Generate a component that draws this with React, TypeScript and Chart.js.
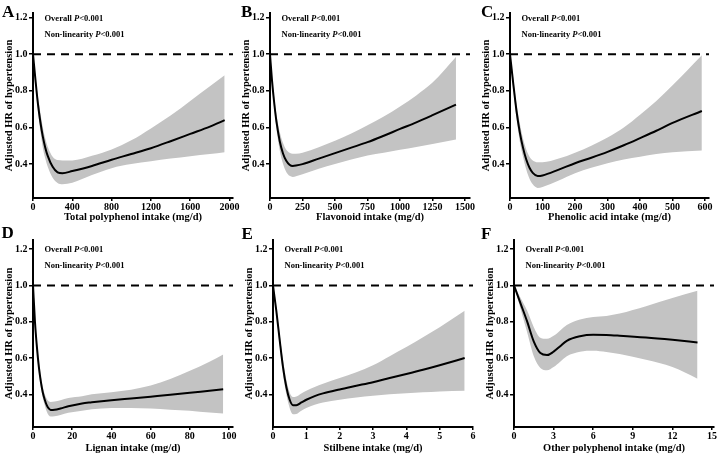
import React, { useEffect, useRef } from "react";
import { Chart, registerables } from "chart.js";

Chart.register(...registerables);

const FONT = "'Liberation Serif', 'Times New Roman', Times, serif";
const BAND = "#c3c3c3";

// ---------- Data ----------
const yTicks = [0.4, 0.6, 0.8, 1.0, 1.2];
const yTitle = "Adjusted HR of hypertension";

// A: Total polyphenol
const aX = [0, 25, 50, 75, 100, 125, 150, 200, 250, 300, 400, 600, 800, 1000, 1200, 1400, 1600, 1800, 1950];
const aFit = [1.0, 0.86, 0.73, 0.63, 0.55, 0.49, 0.445, 0.385, 0.355, 0.35, 0.362, 0.39, 0.424, 0.455, 0.487, 0.525, 0.565, 0.605, 0.64];
const aUp = [1.0, 0.88, 0.77, 0.68, 0.6, 0.54, 0.495, 0.44, 0.422, 0.42, 0.42, 0.445, 0.48, 0.53, 0.595, 0.665, 0.745, 0.825, 0.885];
const aLo = [1.0, 0.84, 0.69, 0.58, 0.49, 0.43, 0.385, 0.325, 0.297, 0.29, 0.298, 0.34, 0.378, 0.4, 0.415, 0.43, 0.443, 0.455, 0.465];
const aTicks = [0, 400, 800, 1200, 1600, 2000];

// B: Flavonoid
const bX = [0, 15, 30, 50, 75, 100, 125, 150, 175, 200, 250, 375, 500, 625, 750, 875, 1000, 1125, 1250, 1430];
const bFit = [1.0, 0.86, 0.75, 0.63, 0.525, 0.458, 0.418, 0.397, 0.39, 0.392, 0.4, 0.43, 0.46, 0.49, 0.52, 0.555, 0.592, 0.628, 0.667, 0.725];
const bUp = [1.0, 0.88, 0.78, 0.67, 0.575, 0.515, 0.478, 0.462, 0.457, 0.456, 0.462, 0.492, 0.527, 0.567, 0.612, 0.66, 0.715, 0.775, 0.845, 0.985];
const bLo = [1.0, 0.84, 0.72, 0.59, 0.475, 0.402, 0.357, 0.336, 0.33, 0.334, 0.345, 0.375, 0.4, 0.425, 0.447, 0.462, 0.478, 0.493, 0.51, 0.535];
const bTicks = [0, 250, 500, 750, 1000, 1250, 1500];

// C: Phenolic acid
const cX = [0, 5, 10, 20, 30, 40, 50, 60, 70, 85, 100, 150, 200, 250, 300, 350, 400, 450, 500, 590];
const cFit = [1.0, 0.92, 0.84, 0.69, 0.575, 0.49, 0.425, 0.38, 0.352, 0.335, 0.338, 0.37, 0.405, 0.435, 0.467, 0.503, 0.542, 0.582, 0.625, 0.69];
const cUp = [1.0, 0.94, 0.87, 0.73, 0.625, 0.54, 0.48, 0.44, 0.42, 0.41, 0.41, 0.43, 0.462, 0.5, 0.545, 0.6, 0.67, 0.745, 0.83, 0.995];
const cLo = [1.0, 0.9, 0.81, 0.65, 0.525, 0.44, 0.37, 0.32, 0.29, 0.27, 0.275, 0.31, 0.35, 0.38, 0.405, 0.425, 0.44, 0.455, 0.465, 0.475];
const cTicks = [0, 100, 200, 300, 400, 500, 600];

// D: Lignan
const dX = [0, 1, 2, 3, 4, 5, 6, 7, 8, 9, 11, 14, 18, 25, 30, 40, 50, 60, 70, 80, 90, 97];
const dFit = [1.0, 0.8, 0.66, 0.55, 0.47, 0.41, 0.37, 0.34, 0.322, 0.314, 0.315, 0.322, 0.334, 0.35, 0.356, 0.367, 0.377, 0.387, 0.397, 0.408, 0.42, 0.428];
const dUp = [1.0, 0.82, 0.69, 0.58, 0.5, 0.44, 0.4, 0.375, 0.362, 0.358, 0.36, 0.368, 0.38, 0.39, 0.4, 0.412, 0.425, 0.448, 0.485, 0.53, 0.58, 0.62];
const dLo = [1.0, 0.78, 0.63, 0.52, 0.44, 0.38, 0.34, 0.305, 0.285, 0.278, 0.279, 0.286, 0.298, 0.31, 0.318, 0.325, 0.325, 0.322, 0.315, 0.31, 0.3, 0.295];
const dTicks = [0, 20, 40, 60, 80, 100];

// E: Stilbene
const eX = [0, 0.05, 0.1, 0.2, 0.3, 0.4, 0.5, 0.6, 0.7, 0.85, 1.0, 1.25, 1.5, 2, 2.5, 3, 3.5, 4, 4.5, 5, 5.75];
const eFit = [1.0, 0.93, 0.86, 0.7, 0.55, 0.44, 0.37, 0.34, 0.34, 0.355, 0.37, 0.39, 0.405, 0.427, 0.447, 0.467, 0.49, 0.512, 0.535, 0.56, 0.6];
const eUp = [1.0, 0.94, 0.88, 0.73, 0.59, 0.48, 0.41, 0.385, 0.388, 0.405, 0.42, 0.44, 0.458, 0.49, 0.522, 0.56, 0.61, 0.66, 0.715, 0.77, 0.86];
const eLo = [1.0, 0.92, 0.84, 0.67, 0.51, 0.4, 0.325, 0.29, 0.292, 0.31, 0.325, 0.343, 0.355, 0.37, 0.382, 0.392, 0.4, 0.406, 0.411, 0.416, 0.42];
const eTicks = [0, 1, 2, 3, 4, 5, 6];

// F: Other polyphenol
const fX = [0, 0.5, 1, 1.5, 2, 2.5, 3, 3.5, 4, 5, 6, 7, 8, 10, 12, 13.9];
const fFit = [1.0, 0.9, 0.8, 0.69, 0.627, 0.616, 0.635, 0.665, 0.695, 0.72, 0.728, 0.727, 0.723, 0.713, 0.7, 0.686];
const fUp = [1.0, 0.93, 0.86, 0.77, 0.712, 0.706, 0.722, 0.752, 0.782, 0.812, 0.826, 0.832, 0.845, 0.885, 0.93, 0.97];
const fLo = [1.0, 0.87, 0.74, 0.61, 0.545, 0.532, 0.55, 0.58, 0.61, 0.635, 0.64, 0.633, 0.622, 0.59, 0.55, 0.486];
const fTicks = [0, 3, 6, 9, 12, 15];

// ---------- Layout ----------
interface Panel {
  letter: string;
  xTitle: string;
  xs: number[];
  fit: number[];
  upper: number[];
  lower: number[];
  xTicks: number[];
  xMax: number;
  yMin: number;
  yMax: number;
  axisX: number;
  right: number;
  top: number;
  bottom: number;
  bpad: number;
  letterX: number;
  letterBase: number;
}

const panels: Panel[] = [
  { letter: "A", xTitle: "Total polyphenol intake (mg/d)", xs: aX, fit: aFit, upper: aUp, lower: aLo, xTicks: aTicks, xMax: 2035, yMin: 0.215, yMax: 1.225, axisX: 33, right: 233, top: 13, bottom: 198, bpad: 26, letterX: 2, letterBase: 17.5 },
  { letter: "B", xTitle: "Flavonoid intake (mg/d)", xs: bX, fit: bFit, upper: bUp, lower: bLo, xTicks: bTicks, xMax: 1538, yMin: 0.215, yMax: 1.225, axisX: 270, right: 470, top: 13, bottom: 198, bpad: 26, letterX: 241, letterBase: 17.5 },
  { letter: "C", xTitle: "Phenolic acid intake (mg/d)", xs: cX, fit: cFit, upper: cUp, lower: cLo, xTicks: cTicks, xMax: 612, yMin: 0.215, yMax: 1.225, axisX: 510, right: 709, top: 13, bottom: 198, bpad: 26, letterX: 481, letterBase: 17.5 },
  { letter: "D", xTitle: "Lignan intake (mg/d)", xs: dX, fit: dFit, upper: dUp, lower: dLo, xTicks: dTicks, xMax: 102, yMin: 0.22, yMax: 1.25, axisX: 33, right: 233, top: 240, bottom: 427, bpad: 28, letterX: 1.5, letterBase: 238.5 },
  { letter: "E", xTitle: "Stilbene intake (mg/d)", xs: eX, fit: eFit, upper: eUp, lower: eLo, xTicks: eTicks, xMax: 6.0, yMin: 0.22, yMax: 1.25, axisX: 273, right: 473, top: 240, bottom: 427, bpad: 28, letterX: 241.5, letterBase: 239 },
  { letter: "F", xTitle: "Other polyphenol intake (mg/d)", xs: fX, fit: fFit, upper: fUp, lower: fLo, xTicks: fTicks, xMax: 15.15, yMin: 0.22, yMax: 1.25, axisX: 514, right: 714, top: 240, bottom: 427, bpad: 28, letterX: 481, letterBase: 239 },
];

const LPAD = 34;
const TPAD = 10;
const RPAD = 8;

function drawStat(ctx: CanvasRenderingContext2D, label: string, x: number, y: number) {
  const parts: [string, boolean][] = [
    [label, false],
    ["P", true],
    ["<0.001", false],
  ];
  let cx = x;
  ctx.fillStyle = "#000";
  ctx.textAlign = "left";
  ctx.textBaseline = "middle";
  for (const [t, it] of parts) {
    ctx.font = `${it ? "italic " : ""}bold 8.5px ${FONT}`;
    ctx.fillText(t, cx, y);
    cx += ctx.measureText(t).width;
  }
}

function PanelChart({ p }: { p: Panel }) {
  const ref = useRef<HTMLCanvasElement>(null);
  const plotW = p.right - p.axisX;
  const plotH = p.bottom - p.top;
  const W = LPAD + plotW + RPAD;
  const H = TPAD + plotH + p.bpad;

  useEffect(() => {
    if (!ref.current) return;
    const pts = (ys: number[]) => p.xs.map((x, i) => ({ x, y: ys[i] }));
    const refPlugin = {
      id: "refline" + p.letter,
      afterDatasetsDraw(chart: any) {
        const { ctx, chartArea, scales } = chart;
        const y1 = scales.y.getPixelForValue(1.0);
        ctx.save();
        ctx.strokeStyle = "#000";
        ctx.lineWidth = 2;
        ctx.setLineDash([8, 6]);
        ctx.beginPath();
        ctx.moveTo(chartArea.left, y1);
        ctx.lineTo(chartArea.right, y1);
        ctx.stroke();
        ctx.setLineDash([]);
        const y12 = scales.y.getPixelForValue(1.2);
        drawStat(ctx, "Overall ", chartArea.left + 11.5, y12 + 1);
        drawStat(ctx, "Non-linearity ", chartArea.left + 11.5, y12 + 17);
        ctx.restore();
      },
    };
    const tickFont = { family: FONT, size: 10, weight: "bold" as const };
    const titleFont = { family: FONT, size: 10.5, weight: "bold" as const };
    const chart = new Chart(ref.current, {
      type: "line",
      data: {
        datasets: [
          { data: pts(p.fit), borderColor: "#000", borderWidth: 2, pointRadius: 0, fill: false, cubicInterpolationMode: "monotone" },
          { data: pts(p.upper), borderColor: "rgba(0,0,0,0)", borderWidth: 0, backgroundColor: BAND, pointRadius: 0, fill: "+1", cubicInterpolationMode: "monotone" },
          { data: pts(p.lower), borderColor: "rgba(0,0,0,0)", borderWidth: 0, backgroundColor: BAND, pointRadius: 0, fill: false, cubicInterpolationMode: "monotone" },
        ],
      },
      options: {
        responsive: false,
        animation: false,
        events: [],
        layout: { padding: { left: 0, top: TPAD, right: RPAD, bottom: 0 } },
        plugins: {
          legend: { display: false },
          tooltip: { enabled: false },
          filler: { drawTime: "beforeDatasetsDraw" },
        },
        scales: {
          x: {
            type: "linear",
            position: "bottom",
            min: 0,
            max: p.xMax,
            z: 1,
            afterFit: (s: any) => {
              s.height = p.bpad;
            },
            afterBuildTicks: (s: any) => {
              s.ticks = p.xTicks.map((v) => ({ value: v }));
            },
            ticks: {
              color: "#000",
              font: tickFont,
              padding: 0,
              maxRotation: 0,
              autoSkip: false,
              callback: (v: any) => String(v),
            },
            grid: { drawOnChartArea: false, drawTicks: true, tickLength: 3, color: "#000", lineWidth: 1.5 },
            border: { display: true, color: "#000", width: 2 },
            title: { display: true, text: p.xTitle, color: "#000", font: titleFont, padding: { top: 0, bottom: 0.5 } },
          },
          y: {
            type: "linear",
            position: "left",
            min: p.yMin,
            max: p.yMax,
            z: 1,
            afterFit: (s: any) => {
              s.width = LPAD;
            },
            afterBuildTicks: (s: any) => {
              s.ticks = yTicks.map((v) => ({ value: v }));
            },
            ticks: {
              color: "#000",
              font: tickFont,
              padding: 1.5,
              callback: (v: any) => Number(v).toFixed(1),
            },
            grid: { drawOnChartArea: false, drawTicks: true, tickLength: 4, color: "#000", lineWidth: 1.5 },
            border: { display: true, color: "#000", width: 2 },
            title: { display: true, text: yTitle, color: "#000", font: titleFont, padding: { top: 4, bottom: 0 } },
          },
        },
      } as any,
      plugins: [refPlugin],
    });
    return () => chart.destroy();
  }, []);

  return (
    <canvas
      ref={ref}
      width={W}
      height={H}
      style={{ position: "absolute", left: p.axisX - LPAD, top: p.top - TPAD, width: W, height: H }}
    />
  );
}

export default function App() {
  return (
    <div
      style={{
        position: "fixed",
        left: 0,
        top: 0,
        width: 718,
        height: 455,
        overflow: "hidden",
        background: "#fff",
      }}
    >
      {panels.map((p) => (
        <PanelChart key={p.letter} p={p} />
      ))}
      {panels.map((p) => (
        <div
          key={"L" + p.letter}
          style={{
            position: "absolute",
            left: p.letterX,
            top: p.letterBase - 14.2,
            font: `bold 17px ${FONT}`,
            lineHeight: "17px",
            color: "#000",
            zIndex: 2,
          }}
        >
          {p.letter}
        </div>
      ))}
    </div>
  );
}
